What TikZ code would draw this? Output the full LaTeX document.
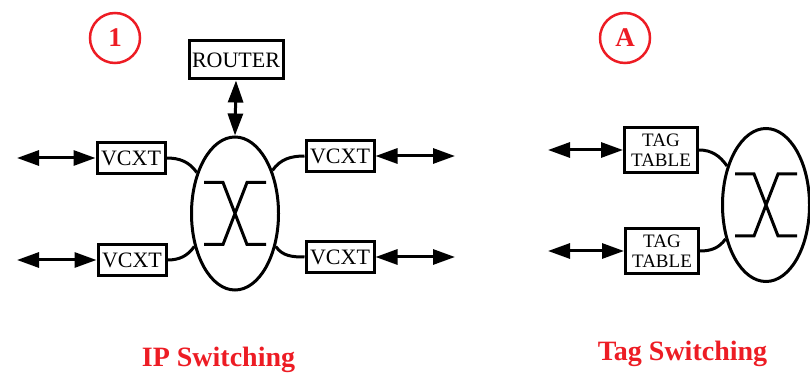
\documentclass[tikz,border=0pt]{standalone}
\usepackage{fontspec}
\setmainfont{Liberation Serif}
\usetikzlibrary{arrows.meta,calc,shapes.geometric}
\definecolor{tagRed}{HTML}{ED1C24}

\begin{document}
\begin{tikzpicture}[x=1pt,y=1pt,line width=3pt,
  box/.style={draw,inner sep=0pt,font=\fontsize{22}{22}\selectfont},
  vcbox/.style={box,minimum width=68pt,minimum height=31pt},
  tagbox/.style={box,minimum width=73pt,minimum height=45pt,align=center,
    font=\fontsize{19}{19.5}\selectfont},
  swell/.style={draw,ellipse,inner sep=0pt,minimum width=87pt,minimum height=153pt},
  dbl/.style={{Triangle[length=22pt,width=15pt]}-{Triangle[length=22pt,width=15pt]}},
  numc/.style={draw=tagRed,circle,line width=2.5pt,minimum size=50pt,inner sep=0pt,
    text=tagRed,font=\fontsize{27}{27}\selectfont\bfseries},
  title/.style={text=tagRed,font=\fontsize{28}{28}\selectfont\bfseries,anchor=base}]
\useasboundingbox (0,0) rectangle (810,372);
% crossbar symbol drawn inside a switch
\def\xcross#1{\draw ($(#1)+(-31,31)$) -- ++(19,0) -- ++(24,-62) -- ++(19,0)
  ($(#1)+(31,31)$) -- ++(-19,0) -- ++(-24,-62) -- ++(-19,0);}

% IP switching
\node[numc] (one) at (115,334) {1};
\node[box,minimum width=94pt,minimum height=38pt] (router) at (236,312) {ROUTER};
\node[swell] (sw1) at (235,158.5) {};
\xcross{sw1}
\node[vcbox] (vl1) at (131,214) {VCXT};
\node[vcbox] (vl2) at (132,112) {VCXT};
\node[vcbox] (vr1) at (340,216) {VCXT};
\node[vcbox] (vr2) at (340,115) {VCXT};
\coordinate (pl1) at (17,214);
\coordinate (pl2) at (17,112);
\coordinate (pr1) at (455,216);
\coordinate (pr2) at (455,115);
\draw[dbl] (router.south) -- (sw1.north);
\draw[dbl] (pl1) -- (vl1.west);
\draw[dbl] (pl2) -- (vl2.west);
\draw[dbl] (vr1.east) -- (pr1);
\draw[dbl] (vr2.east) -- (pr2);
\draw (vl1.east) to[out=0,in=125] (sw1.133);
\draw (vl2.east) to[out=0,in=235] (sw1.219);
\draw (vr1.west) to[out=180,in=55] (sw1.49);
\draw (vr2.west) to[out=180,in=305] (sw1.321);
\node[title] (iptitle) at (218.5,6) {IP Switching};

% Tag switching
\node[numc] (a) at (625,334) {A};
\node[swell] (sw2) at (766,167) {};
\xcross{sw2}
\node[tagbox] (tt1) at (661,222) {TAG\\TABLE};
\node[tagbox] (tt2) at (662,121) {TAG\\TABLE};
\coordinate (pt1) at (548,222);
\coordinate (pt2) at (548,121);
\draw[dbl] (pt1) -- (tt1.west);
\draw[dbl] (pt2) -- (tt2.west);
\draw (tt1.east) to[out=0,in=125] (sw2.135);
\draw (tt2.east) to[out=0,in=235] (sw2.220);
\node[title] (tagtitle) at (682.5,12) {Tag Switching};
\end{tikzpicture}
\end{document}
